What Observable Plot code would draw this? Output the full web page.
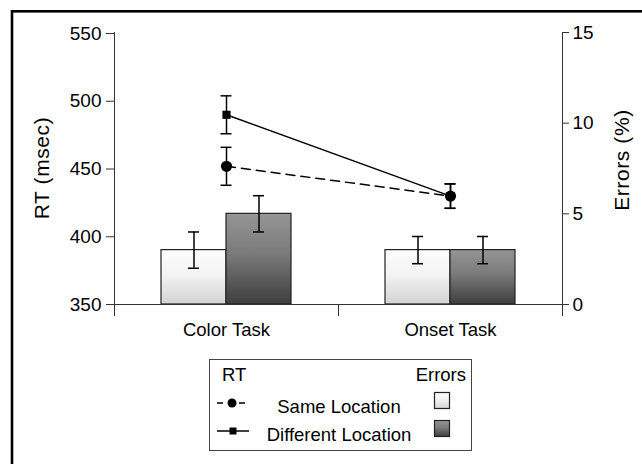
<!DOCTYPE html>
<html><head><meta charset="utf-8">
<script src="https://cdn.jsdelivr.net/npm/d3@7"></script>
<script src="https://cdn.jsdelivr.net/npm/@observablehq/plot@0.6"></script>
<style>
html,body{margin:0;padding:0;background:#fff;overflow:hidden;}
#wrap{position:relative;width:642px;height:464px;overflow:hidden;background:#fff;}
#wrap svg{position:absolute;left:0;top:0;}
</style></head><body><div id="wrap"></div>
<script>
// ---- data ----
const tasks = ["Color Task", "Onset Task"];
const conditions = ["Same Location", "Different Location"];
const rtSame = [452, 430];
const rtSameErr = [14, 9];
const rtDiff = [490, 430];
const rtDiffErr = [14, 9];
const errSame = [3, 3];
const errSameErr = [1, 0.75];
const errDiff = [5, 3];
const errDiffErr = [1, 0.75];
const rtTicks = [350, 400, 450, 500, 550];
const errTicks = [0, 5, 10, 15];
const rtTitle = "RT (msec)";
const errTitle = "Errors (%)";

const rtSameRows = tasks.map((t, i) => ({task: t, idx: i, v: rtSame[i], e: rtSameErr[i]}));
const rtDiffRows = tasks.map((t, i) => ({task: t, idx: i, v: rtDiff[i], e: rtDiffErr[i]}));
const errSameRows = tasks.map((t, i) => ({task: t, idx: i, v: errSame[i], e: errSameErr[i]}));
const errDiffRows = tasks.map((t, i) => ({task: t, idx: i, v: errDiff[i], e: errDiffErr[i]}));

const FONT = '"Liberation Sans", Arial, Helvetica, sans-serif';
const W = 642, H = 464, mL = 114, mR = 80, mT = 32, mB = 160;
const style = {fontFamily: FONT, fontSize: "19px", color: "#000", background: "transparent", overflow: "visible"};

// ---- bars (errors, right axis) ----
const plotA = Plot.plot({
  width: W, height: H, marginLeft: mL, marginRight: mR, marginTop: mT, marginBottom: mB,
  style,
  x: {type: "band", domain: tasks, padding: 0, axis: null},
  y: {domain: [0, 15], axis: null},
  marks: [
    Plot.barY(errSameRows, {x: "task", y: "v", fill: "url(#gLight)", stroke: "#222", strokeWidth: 1.2, insetLeft: 47, insetRight: 112}),
    Plot.barY(errDiffRows, {x: "task", y: "v", fill: "url(#gDark)", stroke: "#222", strokeWidth: 1.2, insetLeft: 112, insetRight: 47}),
    Plot.ruleX(errSameRows, {x: "task", y1: d => d.v - d.e, y2: d => d.v + d.e, dx: -32.5, stroke: "#000", strokeWidth: 1.5}),
    Plot.ruleX(errDiffRows, {x: "task", y1: d => d.v - d.e, y2: d => d.v + d.e, dx: 32.5, stroke: "#000", strokeWidth: 1.5}),
    Plot.tickY(errSameRows, {x: "task", y: d => d.v - d.e, insetLeft: 74, insetRight: 139, stroke: "#000", strokeWidth: 1.5}),
    Plot.tickY(errSameRows, {x: "task", y: d => d.v + d.e, insetLeft: 74, insetRight: 139, stroke: "#000", strokeWidth: 1.5}),
    Plot.tickY(errDiffRows, {x: "task", y: d => d.v - d.e, insetLeft: 139, insetRight: 74, stroke: "#000", strokeWidth: 1.5}),
    Plot.tickY(errDiffRows, {x: "task", y: d => d.v + d.e, insetLeft: 139, insetRight: 74, stroke: "#000", strokeWidth: 1.5}),
    Plot.axisY({anchor: "right", ticks: errTicks, tickSize: 6, tickPadding: 4, label: null, stroke: "#333", fontSize: 19})
  ]
});

// gradients
const defs = d3.select(plotA).insert("defs", ":first-child");
function grad(id, stops) {
  const g = defs.append("linearGradient").attr("id", id).attr("x1", 0).attr("y1", 0).attr("x2", 0).attr("y2", 1);
  stops.forEach(([o, c]) => g.append("stop").attr("offset", o).attr("stop-color", c));
}
grad("gLight", [[0, "#fdfdfd"], [0.45, "#f3f3f3"], [1, "#d4d4d4"]]);
grad("gDark", [[0, "#959595"], [0.45, "#7a7a7a"], [1, "#3e3e3e"]]);

// ---- RT lines (left axis) ----
const xi = d => d.idx + 0.5;
const plotB = Plot.plot({
  width: W, height: H, marginLeft: mL, marginRight: mR, marginTop: mT + 1, marginBottom: mB,
  style,
  x: {domain: [0, tasks.length], axis: null},
  y: {domain: [350, 550], axis: null},
  marks: [
    Plot.ruleY([350], {stroke: "#333"}),
    Plot.ruleX([0, tasks.length], {insetBottom: -12, insetTop: -1, stroke: "#333"}),
    Plot.axisY({anchor: "left", ticks: rtTicks, tickSize: 8, tickPadding: 5, label: null, stroke: "#333", fontSize: 19}),
    Plot.axisX({ticks: d3.range(1, tasks.length), tickSize: 12, tickFormat: () => "", label: null, stroke: "#333"}),
    Plot.axisX({ticks: tasks.map((t, i) => i + 0.5), tickSize: 0, tickPadding: 18, tickFormat: v => tasks[Math.floor(v)], label: null, fontSize: 18.5}),
    Plot.line(rtSameRows, {x: xi, y: "v", stroke: "#000", strokeWidth: 1.5, strokeDasharray: "9,6"}),
    Plot.line(rtDiffRows, {x: xi, y: "v", stroke: "#000", strokeWidth: 1.5}),
    Plot.ruleX(rtDiffRows, {x: xi, y1: d => d.v - d.e, y2: d => d.v + d.e, stroke: "#000", strokeWidth: 1.5}),
    Plot.ruleX(rtSameRows, {x: xi, y1: d => d.v - d.e, y2: d => d.v + d.e, stroke: "#000", strokeWidth: 1.5}),
    Plot.ruleY(rtDiffRows, {x1: xi, x2: xi, y: d => d.v - d.e, insetLeft: -5.5, insetRight: -5.5, stroke: "#000", strokeWidth: 1.5}),
    Plot.ruleY(rtDiffRows, {x1: xi, x2: xi, y: d => d.v + d.e, insetLeft: -5.5, insetRight: -5.5, stroke: "#000", strokeWidth: 1.5}),
    Plot.ruleY(rtSameRows, {x1: xi, x2: xi, y: d => d.v - d.e, insetLeft: -5.5, insetRight: -5.5, stroke: "#000", strokeWidth: 1.5}),
    Plot.ruleY(rtSameRows, {x1: xi, x2: xi, y: d => d.v + d.e, insetLeft: -5.5, insetRight: -5.5, stroke: "#000", strokeWidth: 1.5}),
    Plot.dot(rtDiffRows, {x: xi, y: "v", symbol: "square", r: 4.6, fill: "#000", stroke: "none"}),
    Plot.dot(rtSameRows, {x: xi, y: "v", r: 5.6, fill: "#000", stroke: "none"})
  ]
});

const wrap = d3.select("#wrap");
wrap.node().appendChild(plotA);
wrap.node().appendChild(plotB);

// ---- frame, titles, legend ----
const ov = wrap.append("svg").attr("width", W).attr("height", H)
  .style("font-family", FONT).style("overflow", "visible");
ov.append("rect").attr("x", 12).attr("y", 11.3).attr("width", 700).attr("height", 600)
  .attr("fill", "none").attr("stroke", "#000").attr("stroke-width", 2.6);
ov.append("text").attr("transform", "translate(41,168) rotate(-90)")
  .attr("text-anchor", "middle").attr("dominant-baseline", "central")
  .attr("font-size", 21).attr("letter-spacing", 0.6).text(rtTitle);
ov.append("text").attr("transform", "translate(621,160) rotate(-90)")
  .attr("text-anchor", "middle").attr("dominant-baseline", "central")
  .attr("font-size", 21).attr("letter-spacing", 0.6).text(errTitle);

const lg = ov.append("g");
lg.append("rect").attr("x", 209.5).attr("y", 359.5).attr("width", 262).attr("height", 91)
  .attr("fill", "#fff").attr("stroke", "#444").attr("stroke-width", 1);
lg.append("text").attr("x", 222).attr("y", 381).attr("font-size", 18.5).text("RT");
lg.append("text").attr("x", 466).attr("y", 381).attr("font-size", 18.5).attr("text-anchor", "end").text("Errors");
const rowY = [404, 432];
conditions.forEach((c, i) => {
  const y = rowY[i];
  lg.append("text").attr("x", 339).attr("y", y + 8.5).attr("font-size", 18.5).attr("text-anchor", "middle").text(c);
  lg.append("line").attr("x1", 217).attr("x2", 249).attr("y1", y - 1).attr("y2", y - 1)
    .attr("stroke", "#000").attr("stroke-width", 1.5).attr("stroke-dasharray", i === 0 ? "6,5" : null);
  if (i === 0) lg.append("circle").attr("cx", 232).attr("cy", y - 1).attr("r", 4.5).attr("fill", "#000");
  else lg.append("rect").attr("x", 229.5).attr("y", y - 4.5).attr("width", 7).attr("height", 7).attr("fill", "#000");
  lg.append("rect").attr("x", 434.5).attr("y", y - 11.5).attr("width", 15).attr("height", 16)
    .attr("fill", i === 0 ? "url(#gLight)" : "url(#gDark)").attr("stroke", "#222").attr("stroke-width", 1.2);
});
</script></body></html>
